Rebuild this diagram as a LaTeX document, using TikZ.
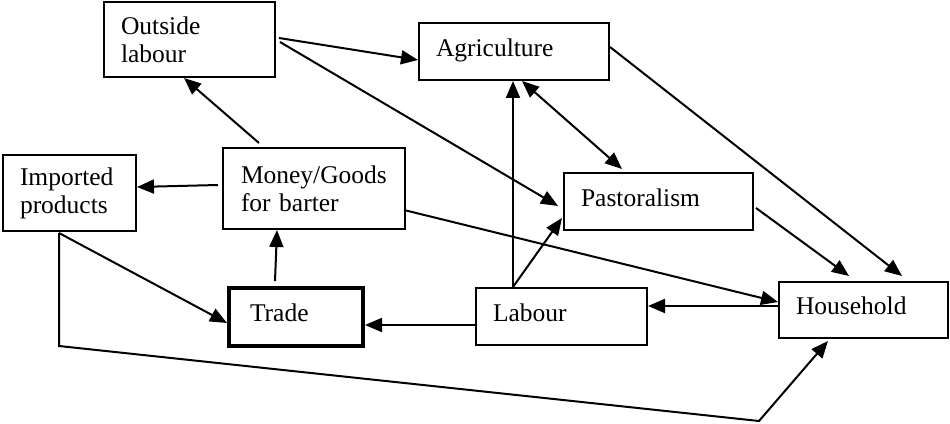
\documentclass[tikz,border=0pt]{standalone}
\usepackage{fontspec}
\setmainfont{Liberation Serif}
\usetikzlibrary{arrows.meta,calc}
\begin{document}
\begin{tikzpicture}[x=1pt,y=1pt,
  box/.style={draw, line width=2pt, rectangle, inner ysep=0pt, align=left,
    font=\fontsize{25.5}{28}\selectfont},
  one/.style={text height=16pt, text depth=6pt},
  arr/.style={line width=2pt, -{Triangle[length=17pt,width=14pt]}},
  darr/.style={line width=2pt, {Triangle[length=17pt,width=14pt]}-{Triangle[length=17pt,width=14pt]}}]
\useasboundingbox (0,0) rectangle (950,423);
% nodes
\node[box, minimum width=171pt, minimum height=75pt, inner xsep=17pt, text width=137pt] (out) at (189.5,383.5) {Outside\\labour};
\node[box, one, minimum width=190pt, minimum height=57pt, inner xsep=17pt, text width=156pt] (agr) at (514,371.5) {Agriculture};
\node[box, minimum width=133pt, minimum height=76pt, inner xsep=17pt, text width=99pt] (imp) at (69.5,230) {Imported\\products};
\node[box, minimum width=182pt, minimum height=81pt, inner xsep=18pt, text width=146pt] (mon) at (314,234.5) {Money/Goods\\for barter};
\node[box, one, minimum width=189pt, minimum height=57pt, inner xsep=17pt, text width=155pt] (pas) at (658.5,221.5) {Pastoralism};
\node[box, one, line width=4pt, minimum width=134pt, minimum height=58pt, inner xsep=21pt, text width=92pt] (tra) at (296,106) {Trade};
\node[box, one, minimum width=171pt, minimum height=57pt, inner xsep=17pt, text width=137pt] (lab) at (561.5,106.5) {Labour};
\node[box, one, minimum width=169pt, minimum height=56pt, inner xsep=17pt, text width=135pt] (hou) at (863.5,113) {Household};
% connectors
\draw[arr] ($(mon.north west)+(37,4)$) -- ($(out.south west)+(81,0)$);
\draw[arr] ($(mon.north west)+(-4,-38)$) -- ($(imp.north east)+(0,-33)$);
\draw[arr] ($(out.north east)+(3,-37)$) -- ($(agr.north west)+(0,-38)$);
\draw[arr] ($(out.north east)+(4,-41)$) -- ($(pas.north west)+(-5,-34)$);
\draw[arr] ($(lab.north west)+(38,0)$) -- ($(agr.south west)+(95,0)$);
\draw[darr] ($(agr.south west)+(104,0)$) -- ($(pas.north west)+(59,3)$);
\draw[arr] ($(lab.north west)+(38,0)$) -- ($(pas.south west)+(-1,13)$);
\draw[arr] ($(agr.north east)+(0,-25)$) -- ($(hou.north west)+(124,5)$);
\draw[arr] ($(pas.north east)+(2,-36)$) -- ($(hou.north west)+(71,5)$);
\draw[arr] ($(mon.north east)+(-2,-63)$) -- ($(hou.north west)+(0,-21)$);
\draw[arr] ($(hou.north west)+(0,-25)$) -- ($(lab.north east)+(0,-19)$);
\draw[arr] ($(lab.north west)+(0,-38)$) -- ($(tra.north east)+(0,-39)$);
\draw[arr] ($(tra.north west)+(48,5)$) -- ($(mon.south west)+(55,0)$);
\draw[arr] ($(imp.south west)+(57,-1)$) -- ($(tra.north west)+(0,-37)$);
\draw[arr] ($(imp.south west)+(57,-1)$) -- ($(imp.south west)+(57,-114)$)
  -- ($(hou.south west)+(-19,-82)$) -- ($(hou.south west)+(50,-2)$);
\end{tikzpicture}
\end{document}
